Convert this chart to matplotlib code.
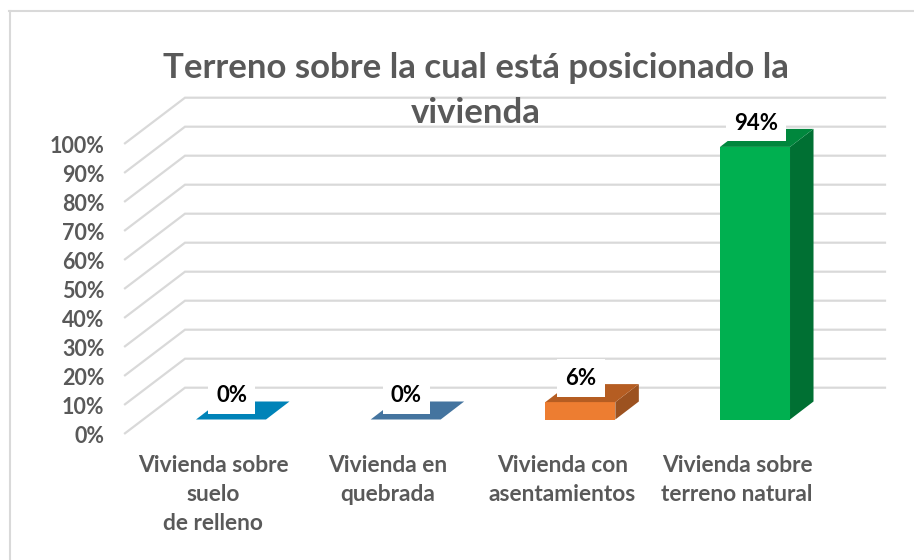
import matplotlib
matplotlib.use("Agg")
import matplotlib.pyplot as plt
from matplotlib.patches import Polygon, Rectangle
from matplotlib.transforms import IdentityTransform

# data
categories = ["Vivienda sobre\nsuelo\nde relleno", "Vivienda en\nquebrada",
              "Vivienda con\nasentamientos", "Vivienda sobre\nterreno natural"]
values = [0, 0, 6, 94]
front_colors = ["#0083B8", "#44749F", "#ED7D31", "#00B050"]
top_colors = ["#0083B8", "#44749F", "#B55D22", "#00873D"]
side_colors = ["#0083B8", "#44749F", "#9C5220", "#007033"]
ticks = [0, 10, 20, 30, 40, 50, 60, 70, 80, 90, 100]
title_lines = ["Terreno sobre la cual está posicionado la", "vivienda"]

# scale of the sheared 3D look, in pixels of the 914x560 picture
PX_PER_CAT = 174.67
PX_PER_PCT = 2.9
X0_PX = 231.0
Y0_PX = 419.5
BAR_W = 70 / PX_PER_CAT


def dx(px):
    return px / PX_PER_CAT


def dy(px):
    return px / PX_PER_PCT


plt.rcParams["font.family"] = ["Lato", "DejaVu Sans"]
GREY = "#595959"
GRID = "#D9D9D9"

fig = plt.figure(figsize=(9.14, 5.6), dpi=100)
ax = fig.add_axes([0, 0, 1, 1])
ax.set_xlim(-X0_PX / PX_PER_CAT, (914 - X0_PX) / PX_PER_CAT)
ax.set_ylim((Y0_PX - 560) / PX_PER_PCT, Y0_PX / PX_PER_PCT)
ax.axis("off")

# chart frame, only top and left show
fig.add_artist(plt.Line2D([9.5 / 914, 9.5 / 914], [0, 1 - 10.5 / 560], color=GRID, lw=1.5))
fig.add_artist(plt.Line2D([9 / 914, 1], [1 - 10.5 / 560, 1 - 10.5 / 560], color=GRID, lw=1.5))

# gridlines: side wall then back wall
x_front = dx(125 - X0_PX)
x_back = dx(185 - X0_PX)
x_end = dx(885 - X0_PX)
for t in ticks:
    y_front = t + dy(-13.8)
    y_back = t + dy(31.8)
    ax.plot([x_front, x_back, x_end], [y_front, y_back, y_back], color=GRID, lw=1.6, zorder=1,
            solid_joinstyle="miter")
    ax.text(dx(104.5 - X0_PX), y_front - dy(3.5), f"{t}%", ha="right", va="center",
            fontsize=15.5, fontweight="bold", color=GREY, zorder=5)

# bars
depth_x = dx(23.5)
depth_y = dy(18)
for i, v in enumerate(values):
    x0 = i - BAR_W / 2
    x1 = i + BAR_W / 2
    if v > 0:
        ax.add_patch(Polygon([(x1, 0), (x1 + depth_x, depth_y), (x1 + depth_x, v + depth_y), (x1, v)],
                             fc=side_colors[i], ec="none", zorder=2))
        ax.add_patch(Rectangle((x0, 0), BAR_W, v, fc=front_colors[i], ec="none", zorder=2))
    ax.add_patch(Polygon([(x0, v), (x1, v), (x1 + depth_x, v + depth_y), (x0 + depth_x, v + depth_y)],
                         fc=top_colors[i], ec="none", zorder=2))

# value labels on white boxes
labels = []
for i, v in enumerate(values):
    labels.append(ax.text(i + dx(0.7), v + dy(23.5), f"{v}%", ha="center", va="center", fontsize=16,
                          fontweight="bold", color="black", zorder=4))
fig.canvas.draw()
for lab in labels:
    w = lab.get_window_extent().width
    cx, cy = ax.transData.transform(lab.get_position())
    ax.add_patch(Rectangle((cx - w / 2 - 8, cy - 18), w + 16, 38, fc="white", ec="none",
                           transform=IdentityTransform(), zorder=3))

# category labels
for i, c in enumerate(categories):
    ax.text(i + dx(-18), dy(419.5 - 455.5), c, ha="center", va="top", fontsize=16.4,
            fontweight="bold", color=GREY, linespacing=1.46, zorder=5)

# title, one text per line
ax.text(dx(476 - X0_PX), dy(419.5 - 67.5), title_lines[0], ha="center", va="center", fontsize=25,
        fontweight="bold", color=GREY, zorder=5)
ax.text(dx(476 - X0_PX), dy(419.5 - 113), title_lines[1], ha="center", va="center", fontsize=25,
        fontweight="bold", color=GREY, zorder=5)

fig.savefig("out.png", dpi=100)
